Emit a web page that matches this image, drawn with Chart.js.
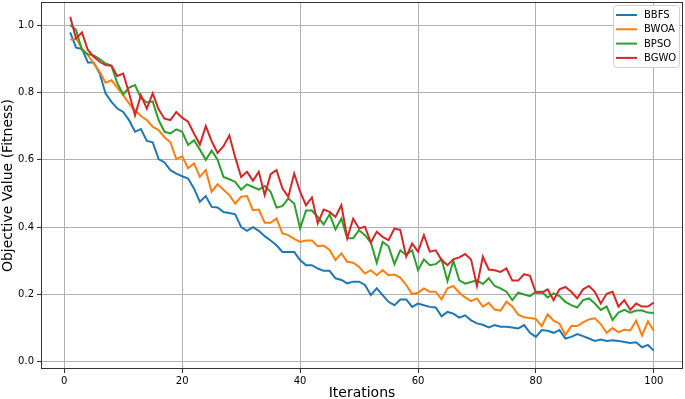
<!DOCTYPE html>
<html>
<head>
<meta charset="utf-8">
<script src="https://cdn.jsdelivr.net/npm/chart.js@4.4.1/dist/chart.umd.min.js"></script>
<style>
html,body{margin:0;padding:0;background:#fff;}
#wrap{width:685px;height:399px;position:relative;}
</style>
</head>
<body>
<div id="wrap"><canvas id="c" width="685" height="399"></canvas></div>
<script>
const iterations = [1,2,3,4,5,6,7,8,9,10,11,12,13,14,15,16,17,18,19,20,21,22,23,24,25,26,27,28,29,30,31,32,33,34,35,36,37,38,39,40,41,42,43,44,45,46,47,48,49,50,51,52,53,54,55,56,57,58,59,60,61,62,63,64,65,66,67,68,69,70,71,72,73,74,75,76,77,78,79,80,81,82,83,84,85,86,87,88,89,90,91,92,93,94,95,96,97,98,99,100];

const bbfs = [0.978,0.933,0.929,0.889,0.889,0.856,0.797,0.772,0.752,0.742,0.717,0.683,0.691,0.656,0.652,0.602,0.592,0.569,0.559,0.551,0.544,0.515,0.475,0.492,0.46,0.458,0.445,0.442,0.438,0.40,0.389,0.40,0.389,0.373,0.36,0.346,0.326,0.326,0.326,0.302,0.287,0.287,0.277,0.27,0.27,0.248,0.243,0.233,0.238,0.238,0.228,0.198,0.218,0.198,0.178,0.168,0.185,0.185,0.163,0.173,0.168,0.163,0.161,0.135,0.148,0.143,0.131,0.138,0.123,0.114,0.11,0.102,0.109,0.104,0.104,0.102,0.099,0.109,0.086,0.074,0.094,0.092,0.086,0.094,0.069,0.074,0.082,0.076,0.069,0.062,0.066,0.062,0.064,0.062,0.059,0.056,0.058,0.043,0.05,0.033];

const bwoa = [0.956,0.96,0.931,0.911,0.886,0.861,0.829,0.836,0.814,0.792,0.767,0.747,0.73,0.718,0.698,0.688,0.667,0.652,0.602,0.61,0.575,0.589,0.549,0.569,0.505,0.527,0.511,0.495,0.47,0.49,0.492,0.45,0.452,0.413,0.413,0.426,0.381,0.376,0.365,0.356,0.36,0.36,0.343,0.345,0.332,0.302,0.322,0.297,0.294,0.282,0.262,0.272,0.257,0.272,0.257,0.259,0.25,0.228,0.201,0.205,0.218,0.208,0.208,0.185,0.218,0.225,0.205,0.191,0.18,0.188,0.164,0.175,0.155,0.152,0.178,0.164,0.14,0.132,0.13,0.127,0.106,0.141,0.122,0.113,0.08,0.106,0.106,0.117,0.126,0.129,0.112,0.086,0.10,0.088,0.095,0.093,0.122,0.078,0.12,0.092];

const bpso = [1.0,0.985,0.926,0.913,0.91,0.899,0.886,0.879,0.827,0.794,0.814,0.822,0.784,0.77,0.773,0.718,0.683,0.678,0.69,0.683,0.644,0.658,0.63,0.60,0.627,0.60,0.549,0.542,0.534,0.511,0.527,0.519,0.511,0.522,0.505,0.458,0.462,0.485,0.47,0.396,0.449,0.449,0.43,0.408,0.438,0.393,0.425,0.367,0.367,0.391,0.376,0.354,0.294,0.356,0.343,0.29,0.331,0.317,0.331,0.272,0.304,0.287,0.29,0.304,0.24,0.30,0.242,0.232,0.237,0.242,0.231,0.248,0.225,0.218,0.208,0.183,0.205,0.20,0.195,0.208,0.208,0.191,0.203,0.195,0.178,0.168,0.161,0.183,0.188,0.173,0.154,0.164,0.124,0.146,0.154,0.146,0.152,0.152,0.146,0.145];

const bgwo = [1.025,0.96,0.978,0.926,0.906,0.891,0.881,0.879,0.849,0.856,0.797,0.732,0.792,0.752,0.797,0.75,0.722,0.718,0.742,0.725,0.713,0.678,0.645,0.70,0.655,0.62,0.64,0.672,0.607,0.549,0.564,0.538,0.564,0.495,0.557,0.569,0.515,0.49,0.559,0.505,0.465,0.488,0.411,0.452,0.445,0.43,0.465,0.367,0.425,0.396,0.401,0.354,0.386,0.371,0.361,0.396,0.391,0.312,0.351,0.327,0.376,0.327,0.331,0.302,0.287,0.304,0.31,0.32,0.304,0.225,0.312,0.274,0.272,0.267,0.277,0.241,0.241,0.26,0.255,0.205,0.205,0.215,0.183,0.215,0.222,0.208,0.188,0.215,0.225,0.208,0.173,0.202,0.208,0.164,0.183,0.154,0.173,0.164,0.164,0.176];

const seriesNames = ["BBFS","BWOA","BPSO","BGWO"];
const seriesColors = ["#1f77b4","#ff7f0e","#2ca02c","#d62728"];
const seriesValues = [bbfs,bwoa,bpso,bgwo];

const xTicks = [0,20,40,60,80,100];
const yTicks = [0.0,0.2,0.4,0.6,0.8,1.0];

const FONT = "'DejaVu Sans', sans-serif";

const datasets = seriesNames.map((name,k)=>({
  label:name,
  data: iterations.map((it,i)=>({x:it,y:seriesValues[k][i]})),
  borderColor: seriesColors[k],
  backgroundColor: seriesColors[k],
  borderWidth: 2,
  pointRadius: 0,
  tension: 0,
  fill:false,
  order: 3-k
}));

const framePlugin = {
  id:'frame',
  afterDatasetsDraw(chart){
    const a = chart.chartArea, ctx = chart.ctx;
    ctx.save();
    ctx.strokeStyle = '#333';
    ctx.lineWidth = 1;
    ctx.strokeRect(Math.round(a.left)+0.5, Math.round(a.top)+0.5, Math.round(a.right-a.left)-1, Math.round(a.bottom-a.top)-1);
    // legend
    const ds = chart.data.datasets;
    const bx = 613, by = 5, bw = 66, rowH = 14.3, bh = 62;
    ctx.fillStyle = 'rgba(255,255,255,0.85)';
    ctx.strokeStyle = '#d0d0d0';
    ctx.lineWidth = 1;
    ctx.beginPath();
    if (ctx.roundRect) ctx.roundRect(bx+0.5,by+0.5,bw,bh,3); else ctx.rect(bx+0.5,by+0.5,bw,bh);
    ctx.fill(); ctx.stroke();
    ctx.font = "10px " + FONT;
    ctx.textBaseline = 'middle';
    ds.forEach((d,i)=>{
      const cy = by + 10 + i*rowH;
      ctx.strokeStyle = d.borderColor;
      ctx.lineWidth = 2;
      ctx.beginPath(); ctx.moveTo(bx+3, cy); ctx.lineTo(bx+24, cy); ctx.stroke();
      ctx.fillStyle = '#000';
      ctx.fillText(d.label, bx+31, cy+0.5);
    });
    ctx.restore();
  }
};

new Chart(document.getElementById('c'), {
  type:'line',
  data:{datasets},
  plugins:[framePlugin],
  options:{
    responsive:false,
    animation:false,
    events:[],
    layout:{padding:{top:2,right:2,left:0,bottom:0}},
    plugins:{legend:{display:false},tooltip:{enabled:false}},
    scales:{
      x:{
        type:'linear',
        min:-3.95, max:104.95,
        afterBuildTicks(s){ s.ticks = xTicks.map(v=>({value:v})); },
        afterFit(s){ s.height = 30; s.paddingLeft = 0; s.paddingRight = 0; },
        ticks:{font:{family:FONT,size:10},color:'#000',padding:2,maxRotation:0,autoSkip:false,callback:v=>String(v)},
        grid:{color:'#b0b0b0',lineWidth:1,drawTicks:true,tickLength:4,tickColor:'#333'},
        border:{display:false},
        title:{display:true,text:'Iterations',font:{family:FONT,size:14},color:'#000',padding:{top:0,bottom:-3}}
      },
      y:{
        type:'linear',
        min:-0.0215, max:1.0685,
        afterBuildTicks(s){ s.ticks = yTicks.map(v=>({value:v})); },
        afterFit(s){ s.width = 41; s.paddingTop = 0; s.paddingBottom = 0; },
        ticks:{font:{family:FONT,size:10},color:'#000',padding:3,autoSkip:false,callback:v=>v.toFixed(1)},
        grid:{color:'#b0b0b0',lineWidth:1,drawTicks:true,tickLength:4,tickColor:'#333'},
        border:{display:false},
        title:{display:true,text:'Objective Value (Fitness)',font:{family:FONT,size:14},color:'#000',padding:{top:0,bottom:0}}
      }
    }
  }
});
</script>
</body>
</html>
